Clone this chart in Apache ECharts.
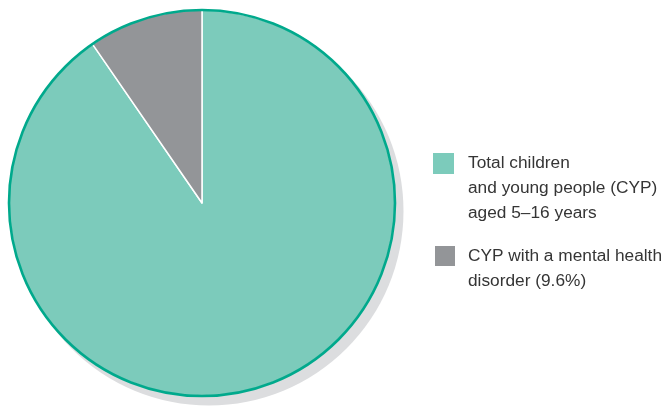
<!DOCTYPE html>
<html>
<head>
<meta charset="utf-8">
<script src="https://cdn.jsdelivr.net/npm/echarts@6/dist/echarts.min.js"></script>
<style>
html,body{margin:0;padding:0;background:#fff;}
#chart{width:667px;height:408px;}
</style>
</head>
<body>
<div id="chart"></div>
<script>
// Data
const categories = ['Total children\nand young people (CYP)\naged 5–16 years', 'CYP with a mental health\ndisorder (9.6%)'];
const values = [90.4, 9.6];
const palette = ['#7ccbbb', '#939598'];

const chart = echarts.init(document.getElementById('chart'), null, {renderer: 'canvas'});
const center = [202, 203];
const radius = 193;
const fontBase = {fontFamily: 'Liberation Sans, Arial, sans-serif', fontSize: 17.3, lineHeight: 25, color: '#353535', padding: [0, 0, 0, 9]};

// pad blank lines above so the marker sits beside the first line of each label
function topAligned(name) {
  const extra = name.split('\n').length - 1;
  return '\n'.repeat(extra) + name;
}

const option = {
  animation: false,
  backgroundColor: '#ffffff',
  legend: [
    {
      data: [categories[0]], orient: 'vertical', left: 433, top: 101, padding: 0,
      itemWidth: 21, itemHeight: 21, icon: 'rect', selectedMode: false,
      itemStyle: {borderWidth: 0},
      formatter: topAligned,
      textStyle: Object.assign({}, fontBase)
    },
    {
      data: [categories[1]], orient: 'vertical', left: 435, top: 218.5, padding: 0,
      itemWidth: 20, itemHeight: 20, icon: 'rect', selectedMode: false,
      itemStyle: {borderWidth: 0},
      formatter: topAligned,
      textStyle: Object.assign({}, fontBase, {padding: [0, 0, 0, 8]})
    }
  ],
  series: [
    {
      name: 'shadow', type: 'pie', silent: true, z: 1,
      center: [center[0] + 7, center[1] + 8], radius: radius + 1.5,
      label: {show: false}, labelLine: {show: false},
      itemStyle: {color: '#dcdddf', borderWidth: 0},
      emphasis: {disabled: true},
      data: [{name: 'shadow', value: 1}]
    },
    {
      name: 'main', type: 'pie', z: 2, silent: true,
      center: center, radius: radius,
      startAngle: 90, clockwise: true,
      label: {show: false}, labelLine: {show: false},
      itemStyle: {borderColor: '#ffffff', borderWidth: 1.5},
      emphasis: {disabled: true},
      data: categories.map((c, i) => ({name: c, value: values[i], itemStyle: {color: palette[i]}}))
    },
    {
      name: 'outline', type: 'pie', silent: true, z: 3,
      center: center, radius: radius,
      label: {show: false}, labelLine: {show: false},
      itemStyle: {color: 'rgba(0,0,0,0)', borderColor: '#00a98c', borderWidth: 2.6},
      emphasis: {disabled: true},
      data: [{name: 'outline', value: 1}]
    }
  ]
};
chart.setOption(option);
</script>
</body>
</html>
